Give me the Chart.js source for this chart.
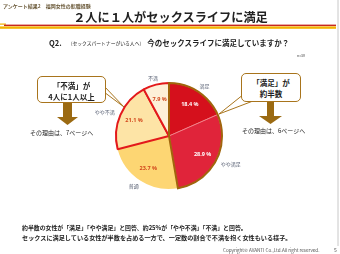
<!DOCTYPE html>
<html><head><meta charset="utf-8">
<script src="https://cdn.jsdelivr.net/npm/chart.js@4/dist/chart.umd.min.js"></script>
<style>
html,body{margin:0;padding:0;background:#fff;}
body{width:340px;height:254px;position:relative;overflow:hidden;font-family:"Noto Sans CJK JP","Noto Sans",sans-serif;}
#c{position:absolute;left:0;top:0;}
.t{position:absolute;white-space:nowrap;line-height:1;}
.box{position:absolute;background:#fff;border:1.3px solid #a8741c;border-radius:5px;text-align:center;font-weight:bold;color:#222;box-sizing:border-box;}
svg{position:absolute;left:0;top:0;}
</style></head>
<body>
<canvas id="c" width="340" height="254"></canvas>
<svg width="340" height="254">
  <line x1="338" y1="0" x2="338" y2="246" stroke="#c8c8c8" stroke-width="1"/>
  <rect x="0" y="23.5" width="6" height="1.2" fill="#f3b300"/>
  <rect x="4" y="24.6" width="332" height="1.5" fill="#c8281e"/>
  <rect x="0" y="26.4" width="336" height="2.4" fill="#f3b300"/>
  <!-- left tail -->
  <polygon points="104,86 124,107 104,92" fill="#fff" stroke="#a8741c" stroke-width="1"/>
  <!-- right tail -->
  <polygon points="244,94 219,114 253,101" fill="#fff" stroke="#a8741c" stroke-width="1"/>
  <!-- arrows -->
  <polygon points="63,103 72,103 72,117 78,117 67.5,125 57,117 63,117" fill="#9b6a12"/>
  <polygon points="267,102 274,102 274,116 282,116 270.5,124 259,116 267,116" fill="#9b6a12"/>
</svg>
<div class="box" style="left:37px;top:76px;width:69px;height:27px;font-size:7.5px;line-height:11px;padding-top:2.5px;">「不満」が<br>4人に1人以上</div>
<div class="box" style="left:241px;top:73px;width:60px;height:29px;font-size:7.5px;line-height:11px;padding-top:3px;">「満足」が<br>約半数</div>
<div class="t" style="left:3px;top:3px;font-size:5px;font-weight:bold;color:#6b5a3a;">アンケート結果2　福岡女性の転職経験</div>
<div class="t" style="left:0;width:341px;text-align:center;top:10.5px;font-size:12.2px;font-weight:bold;color:#222;">２人に１人がセックスライフに満足</div>
<div class="t" style="left:49px;top:39px;font-size:7.5px;font-weight:bold;color:#222;">Q2.<span style="font-size:4.8px;font-weight:normal;margin-left:6px;margin-right:3px;position:relative;top:-1px;">（セックスパートナーがいる人へ）</span>今のセックスライフに満足していますか？</div>
<div class="t" style="left:297px;top:54px;font-size:3.5px;color:#333;">n=38</div>
<div class="t" style="left:30px;top:130px;font-size:6px;color:#222;">その理由は、7ページへ</div>
<div class="t" style="left:242px;top:128px;font-size:6px;color:#222;">その理由は、6ページへ</div>
<div class="t" style="left:22px;top:225px;font-size:5.9px;font-weight:bold;color:#222;">約半数の女性が「満足」「やや満足」と回答、約25%が「やや不満」「不満」と回答。</div>
<div class="t" style="left:22px;top:235px;font-size:6.15px;font-weight:bold;color:#222;">セックスに満足している女性が半数を占める一方で、一定数の割合で不満を抱く女性もいる様子。</div>
<div class="t" style="left:223px;top:248px;font-size:4.6px;color:#555;">Copyright© AVANTI Co.,Ltd.All right reserved.</div>
<div class="t" style="left:334px;top:247px;font-size:5px;color:#555;">5</div>
<script>
const categories = ["満足", "やや満足", "普通", "やや不満", "不満"];
const percentValues = [18.4, 28.9, 23.7, 21.1, 7.9];
const sliceColors = ["#d5101c", "#e0243a", "#fdd673", "#fde4a6", "#fdf0d8"];
const labelColors = ["#ffffff", "#ffffff", "#d2461c", "#d2461c", "#d2461c"];

const labelPlugin = {
  id: "sliceLabels",
  afterDatasetsDraw(chart) {
    const ctx = chart.ctx;
    const arcs = chart.getDatasetMeta(0).data;
    // group outline for satisfied (brown)
    const a0 = arcs[0], a1 = arcs[1];
    ctx.save();
    ctx.beginPath();
    ctx.moveTo(a0.x, a0.y);
    ctx.arc(a0.x, a0.y, a0.outerRadius, a0.startAngle, a1.endAngle);
    ctx.closePath();
    ctx.lineWidth = 2;
    ctx.strokeStyle = "#a0650c";
    ctx.lineJoin = "miter";
    ctx.stroke();
    ctx.restore();

    ctx.save();
    ctx.textAlign = "center";
    ctx.textBaseline = "middle";
    arcs.forEach((a, i) => {
      const mid = (a.startAngle + a.endAngle) / 2;
      const r = a.outerRadius;
      ctx.font = "bold 5.5px 'Noto Sans', sans-serif";
      ctx.fillStyle = labelColors[i];
      ctx.fillText(percentValues[i].toFixed(1) + " %", a.x + Math.cos(mid) * r * 0.72, a.y + Math.sin(mid) * r * 0.72);
      ctx.font = "5px 'Noto Sans CJK JP', sans-serif";
      ctx.fillStyle = "#5a6275";
      const w = ctx.measureText(categories[i]).width;
      const ox = a.x + Math.cos(mid) * (r + 7) + Math.cos(mid) * w / 2;
      const oy = a.y + Math.sin(mid) * (r + 7);
      ctx.fillText(categories[i], ox, oy);
    });
    ctx.restore();
  }
};

new Chart(document.getElementById("c"), {
  type: "pie",
  data: {
    labels: categories,
    datasets: [{
      data: percentValues,
      backgroundColor: sliceColors,
      borderColor: ["#f28a90", "#f28a90", "#fdd673", "#e3191b", "#e3191b"],
      borderWidth: [0.8, 0.8, 0, 2, 2]
    }]
  },
  options: {
    responsive: false,
    animation: false,
    radius: 53,
    layout: { padding: { top: 18, right: 2 } },
    plugins: { legend: { display: false }, tooltip: { enabled: false } }
  },
  plugins: [labelPlugin]
});
</script>
</body></html>
